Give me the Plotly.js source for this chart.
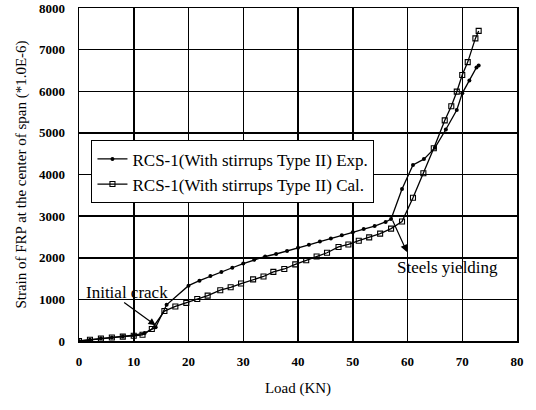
<!DOCTYPE html>
<html>
<head>
<meta charset="utf-8">
<script src="https://cdn.plot.ly/plotly-3.0.1.min.js"></script>
<style>html,body{margin:0;padding:0;background:#fff;}#chart{width:536px;height:410px;}</style>
</head>
<body>
<div id="chart"></div>
<script>
// Experimental series (Load kN, strain *1E-6)
const expLoad = [0,2,4,6,8,10,12,14,16,20,22,24,26,28,30,32,34,36,38,40,42,44,46,48,50,52,54,56,57,59,61,63,65,67,69,70,71.3,72.6,73];
const expStrain = [0,30,65,85,110,140,190,330,870,1330,1450,1560,1660,1760,1860,1950,2030,2090,2160,2240,2310,2390,2460,2540,2610,2690,2760,2860,2930,3650,4230,4370,4640,5080,5550,5950,6260,6570,6620];
// Calculated series
const calLoad = [0,2,4,6,8,10,11.6,13.3,15.6,17.6,19.6,21.6,23.5,25.8,27.7,29.6,31.8,33.7,35.5,37.5,39.5,41.5,43.4,45.3,47.4,49.2,51.1,53,55,57,59,61,62.9,64.8,66.8,68,69,70,71,72.4,73];
const calStrain = [0,30,60,85,105,125,150,290,720,830,915,1010,1090,1220,1290,1380,1480,1550,1660,1730,1840,1940,2030,2120,2260,2320,2410,2490,2580,2700,2870,3440,4030,4630,5300,5640,5990,6390,6700,7270,7450];
const seriesNames = ["RCS-1(With stirrups Type II) Exp.", "RCS-1(With stirrups Type II) Cal."];
const xTicks = [0,10,20,30,40,50,60,70,80];
const yTicks = [0,1000,2000,3000,4000,5000,6000,7000,8000];

const serif = "Liberation Serif, Times New Roman, serif";

const traces = [
  {x: expLoad, y: expStrain, name: seriesNames[0], mode: "lines+markers",
   line: {color: "#000", width: 1.3},
   marker: {symbol: "circle", size: 4, color: "#000"}},
  {x: calLoad, y: calStrain, name: seriesNames[1], mode: "lines+markers",
   line: {color: "#000", width: 1.3},
   marker: {symbol: "square-open", size: 5, color: "#000", line: {width: 1.1}}}
];

const layout = {
  width: 536, height: 410,
  margin: {l: 79, r: 19, t: 8, b: 69},
  paper_bgcolor: "#fff", plot_bgcolor: "#fff",
  showlegend: true,
  legend: {x: 0.028, y: 0.603, xanchor: "left", yanchor: "top",
           bordercolor: "#000", borderwidth: 1.2, bgcolor: "#fff",
           font: {family: serif, size: 17, color: "#000"},
           itemwidth: 30, tracegroupgap: 0},
  xaxis: {range: [0, 80], tickvals: xTicks, ticktext: xTicks.map(String),
          showgrid: true, gridcolor: "#000", gridwidth: 1.5,
          showline: true, linecolor: "#000", linewidth: 1.5, mirror: true,
          zeroline: false, ticks: "", ticklabelstandoff: 8,
          tickfont: {family: serif, size: 13, color: "#000", weight: "bold"},
          title: {text: "Load (KN)", font: {family: serif, size: 15, color: "#000"}, standoff: 14}},
  yaxis: {range: [0, 8000], tickvals: yTicks, ticktext: yTicks.map(String),
          showgrid: true, gridcolor: "#000", gridwidth: 1.5,
          showline: true, linecolor: "#000", linewidth: 1.5, mirror: true,
          zeroline: false, ticks: "", ticklabelstandoff: 10,
          tickfont: {family: serif, size: 13, color: "#000", weight: "bold"},
          title: {text: "Strain of FRP at the center of span (*1.0E-6)", font: {family: serif, size: 15, color: "#000"}, standoff: 8}},
  annotations: [
    {x: 8.7, y: 1170, xref: "x", yref: "y", text: "Initial crack", showarrow: false,
     font: {family: serif, size: 17, color: "#000"}},
    {x: 14, y: 377, xref: "x", yref: "y", text: "", showarrow: true,
     ax: -33, ay: -24, arrowhead: 2, arrowsize: 1.2, arrowwidth: 1.2, arrowcolor: "#000"},
    {x: 67.3, y: 1770, xref: "x", yref: "y", text: "Steels yielding", showarrow: false,
     font: {family: serif, size: 17, color: "#000"}},
    {x: 59.9, y: 2140, xref: "x", yref: "y", text: "", showarrow: true,
     ax: -15, ay: -33, arrowhead: 2, arrowsize: 1.2, arrowwidth: 1.2, arrowcolor: "#000"}
  ]
};

Plotly.newPlot("chart", traces, layout, {displayModeBar: false, staticPlot: true});
</script>
</body>
</html>
